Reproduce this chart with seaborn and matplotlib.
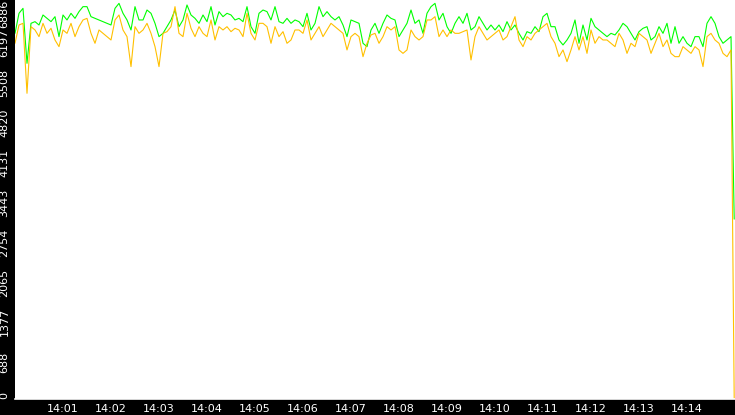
import numpy as np
import pandas as pd
import matplotlib
matplotlib.use("Agg")
import matplotlib.pyplot as plt
import matplotlib.dates as mdates
import matplotlib.transforms as mtransforms
import seaborn as sns

# ---- data (sampled every 5 s from 14:00:00) ----
green = [
    6310, 6656, 6742, 5792, 6483, 6512, 6454, 6627, 6569, 6512,
    6598, 6253, 6627, 6541, 6656, 6569, 6685, 6771, 6771, 6598,
    6569, 6541, 6512, 6483, 6454, 6742, 6828, 6656, 6541, 6368,
    6771, 6541, 6541, 6713, 6656, 6483, 6253, 6310, 6425, 6541,
    6713, 6425, 6541, 6800, 6627, 6569, 6483, 6627, 6512, 6771,
    6454, 6685, 6598, 6656, 6627, 6541, 6569, 6512, 6771, 6425,
    6310, 6656, 6713, 6685, 6541, 6771, 6512, 6483, 6569, 6483,
    6541, 6512, 6425, 6656, 6368, 6483, 6771, 6598, 6685, 6598,
    6541, 6598, 6454, 6253, 6541, 6512, 6483, 6138, 6080, 6368,
    6483, 6310, 6483, 6627, 6569, 6541, 6253, 6368, 6483, 6713,
    6483, 6541, 6310, 6656, 6771, 6828, 6541, 6656, 6425, 6310,
    6483, 6598, 6483, 6656, 6368, 6425, 6598, 6483, 6368, 6454,
    6368, 6454, 6339, 6512, 6368, 6454, 6310, 6195, 6339, 6310,
    6425, 6339, 6598, 6656, 6425, 6425, 6195, 6109, 6195, 6310,
    6541, 6138, 6454, 6195, 6569, 6425, 6368, 6310, 6253, 6310,
    6282, 6368, 6483, 6425, 6310, 6195, 6339, 6397, 6425, 6195,
    6253, 6425, 6310, 6483, 6138, 6425, 6138, 6253, 6138, 6080,
    6253, 6253, 6080, 6483, 6598, 6483, 6253, 6138, 6195, 6253,
    3100,
]
orange = [
    6138, 6454, 6483, 5274, 6425, 6368, 6253, 6483, 6310, 6397,
    6195, 6080, 6368, 6310, 6483, 6253, 6425, 6541, 6569, 6310,
    6138, 6368, 6310, 6253, 6195, 6541, 6627, 6368, 6253, 5735,
    6425, 6310, 6368, 6483, 6310, 6080, 5735, 6310, 6339, 6425,
    6771, 6310, 6253, 6656, 6397, 6253, 6425, 6310, 6253, 6541,
    6195, 6425, 6368, 6425, 6339, 6397, 6368, 6253, 6656, 6310,
    6195, 6483, 6483, 6425, 6138, 6425, 6253, 6339, 6138, 6195,
    6368, 6368, 6310, 6541, 6195, 6310, 6425, 6253, 6368, 6483,
    6425, 6368, 6310, 6023, 6253, 6310, 6253, 5907, 6138, 6282,
    6310, 6138, 6253, 6425, 6368, 6425, 6023, 5964, 6023, 6368,
    6253, 6195, 6253, 6541, 6541, 6598, 6253, 6368, 6253, 6368,
    6310, 6310, 6339, 6368, 5850, 6253, 6425, 6310, 6195, 6253,
    6310, 6368, 6195, 6253, 6425, 6598, 6195, 6080, 6253, 6195,
    6310, 6368, 6425, 6483, 6253, 6138, 5907, 6023, 5821, 6023,
    6253, 6023, 6253, 5964, 6368, 6138, 6253, 6195, 6195, 6138,
    6080, 6310, 6195, 5964, 6138, 6080, 6310, 6253, 6195, 5964,
    6138, 6310, 6080, 6195, 5964, 5907, 5907, 6080, 6023, 5964,
    6080, 6023, 5735, 6253, 6310, 6195, 6138, 5964, 5907, 6023,
    0,
]
offsets_s = list(range(0, 900, 5)) + [899]

ytick_values = list(np.linspace(0, 6886, 11))
ytick_labels = ["0", "688", "1377", "2065", "2754", "3443",
                "4131", "4820", "5508", "6197", "6886"]
xtick_minutes = list(range(1, 15))

start = pd.Timestamp("2024-01-01 14:00:00")
times = start + pd.to_timedelta(offsets_s, unit="s")
df = pd.concat([
    pd.DataFrame({"time": times, "value": green, "series": "green"}),
    pd.DataFrame({"time": times, "value": orange, "series": "orange"}),
], ignore_index=True)

sns.set_style("white")
plt.rcParams["font.family"] = ["DejaVu Sans"]

fig = plt.figure(figsize=(7.35, 4.15), dpi=100, facecolor="black")
ax = fig.add_axes([15 / 735, 16.5 / 415, 720 / 735, 398.5 / 415])
ax.set_facecolor("white")

sns.lineplot(data=df, x="time", y="value", hue="series",
             palette={"green": "#00ff00", "orange": "#ffc000"},
             hue_order=["green", "orange"], linewidth=0.8,
             legend=False, ax=ax, estimator=None, sort=False)

ax.set_xlim(start, start + pd.Timedelta(minutes=15))
ax.set_ylim(0, 6886)
ax.set_xlabel("")
ax.set_ylabel("")

ax.xaxis.set_major_locator(mdates.MinuteLocator(byminute=xtick_minutes))
ax.xaxis.set_major_formatter(mdates.DateFormatter("%H:%M"))
ax.set_yticks(ytick_values)
ax.set_yticklabels(ytick_labels, rotation=90, va="center")

ax.tick_params(axis="both", colors="white", labelcolor="white",
               labelsize=8, length=3, width=1, direction="out", pad=1)

shift = mtransforms.ScaledTranslation(0, -3.5 / 100, fig.dpi_scale_trans)
ylabs = ax.get_yticklabels()
for lab in ylabs[1:-1]:
    lab.set_transform(lab.get_transform() + shift)
ylabs[0].set_va("bottom")
ylabs[-1].set_va("top")

for side in ["top", "right", "left"]:
    ax.spines[side].set_visible(False)
ax.spines["bottom"].set_color("white")
ax.spines["bottom"].set_linewidth(1.2)

fig.savefig("out.png", dpi=100, facecolor="black")
